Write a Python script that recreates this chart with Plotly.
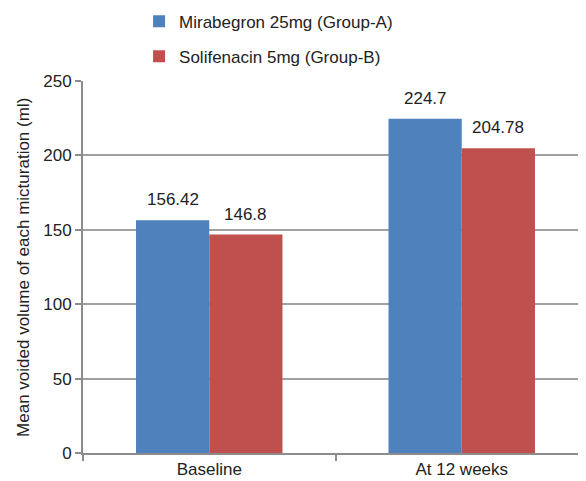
import plotly.graph_objects as go

categories = ["Baseline", "At 12 weeks"]
mirabegron = [156.42, 224.7]
solifenacin = [146.8, 204.78]
series_names = ["Mirabegron 25mg (Group-A)", "Solifenacin 5mg (Group-B)"]
y_ticks = [0, 50, 100, 150, 200, 250]
y_title = "Mean voided volume of each micturation (ml)"

BARGAP = 0.42
half = (1 - BARGAP) / 4  # offset of each bar centre from category centre

fig = go.Figure()
fig.add_trace(go.Bar(x=categories, y=mirabegron, name=series_names[0],
                     marker=dict(color="#4F81BD", line=dict(width=0)),
                     legendgroup="a"))
fig.add_trace(go.Bar(x=categories, y=solifenacin, name=series_names[1],
                     marker=dict(color="#C0504D", line=dict(width=0)),
                     legendgroup="b"))

for i, cat in enumerate(categories):
    for vals, off in ((mirabegron, -half), (solifenacin, half)):
        fig.add_annotation(x=i + off, y=vals[i], text=str(vals[i]), showarrow=False,
                           yanchor="bottom", yshift=9, xref="x", yref="y",
                           font=dict(size=17, color="#222"))

fig.add_annotation(x=-0.119, y=0.5, xref="paper", yref="paper", text=y_title,
                   textangle=-90, showarrow=False, xanchor="center", yanchor="middle",
                   font=dict(size=17, color="#222"))

fig.update_layout(
    width=580, height=473,
    margin=dict(l=75, r=0, t=73, b=28, autoexpand=False),
    paper_bgcolor="white", plot_bgcolor="white",
    font=dict(family="Liberation Sans, Arial, sans-serif", size=17, color="#222"),
    barmode="group", bargap=BARGAP, bargroupgap=0,
    legend=dict(x=0.111, y=1.208, xanchor="left", yanchor="top",
                font=dict(size=17), tracegroupgap=10, traceorder="grouped",
                bgcolor="rgba(0,0,0,0)"),
    xaxis=dict(showline=True, linecolor="#8c8c8c", linewidth=2,
               ticks="outside", tickson="boundaries", ticklen=6, tickcolor="#8c8c8c",
               tickwidth=2, tickfont=dict(size=17), showgrid=False),
    yaxis=dict(range=[0, 250], tickvals=y_ticks, showline=True, linecolor="#8c8c8c",
               linewidth=2, ticks="outside", ticklen=6, tickcolor="#8c8c8c", tickwidth=2,
               showgrid=True, gridcolor="#a0a0a0", gridwidth=1.5, zeroline=False,
               tickfont=dict(size=17)),
    showlegend=True,
)

fig.write_html("out.html")
